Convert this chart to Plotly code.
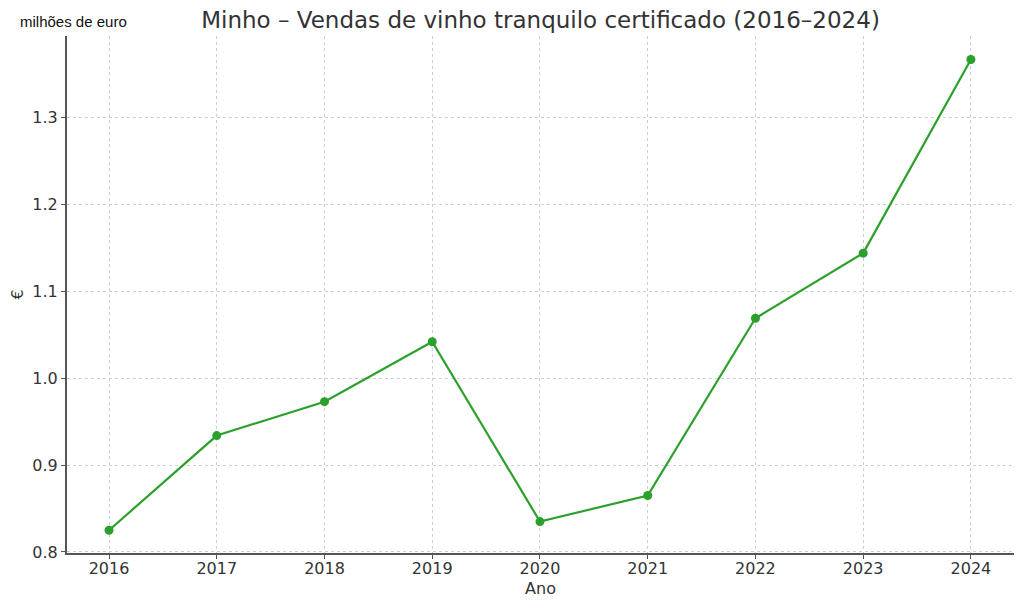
import plotly.graph_objects as go

years = [2016, 2017, 2018, 2019, 2020, 2021, 2022, 2023, 2024]
sales = [0.825, 0.934, 0.973, 1.042, 0.835, 0.865, 1.069, 1.144, 1.367]
y_ticks = [0.8, 0.9, 1.0, 1.1, 1.2, 1.3]
y_tick_labels = ["0.8", "0.9", "1.0", "1.1", "1.2", "1.3"]

fig = go.Figure()
fig.add_trace(go.Scatter(
    x=years, y=sales, mode="lines+markers",
    line=dict(color="#2ca02c", width=2.2),
    marker=dict(color="#2ca02c", size=9),
    showlegend=False,
))

font_main = "DejaVu Sans, sans-serif"
fig.update_layout(
    width=1016, height=602,
    paper_bgcolor="white", plot_bgcolor="white",
    margin=dict(l=59, r=10, t=28, b=57),
    title=dict(text="Minho – Vendas de vinho tranquilo certificado (2016–2024)",
               xref="paper", x=0.5, xanchor="center", y=0.98, yanchor="middle",
               font=dict(family=font_main, size=23, color="#333333")),
    font=dict(family=font_main, color="#333333"),
)
fig.update_xaxes(
    range=[2015.61, 2024.4], tickmode="array", tickvals=years,
    ticktext=[str(y) for y in years],
    showgrid=True, gridcolor="#cfcfcf", griddash="3px,3px", gridwidth=1,
    showline=True, linecolor="#555555", linewidth=2,
    ticks="outside", ticklen=4, tickcolor="#555555",
    tickfont=dict(size=16, color="#333333"),
    ticklabelstandoff=-4,
    title=dict(text="Ano", font=dict(size=16, color="#333333"), standoff=6),
    zeroline=False, automargin=False,
)
fig.update_yaxes(
    range=[0.7988, 1.394], tickmode="array", tickvals=y_ticks, ticktext=y_tick_labels,
    showgrid=True, gridcolor="#cfcfcf", griddash="3px,3px", gridwidth=1,
    showline=True, linecolor="#555555", linewidth=2,
    ticks="outside", ticklen=4, tickcolor="#555555",
    tickfont=dict(size=16, color="#333333"),
    title=dict(text="€", font=dict(size=16, color="#333333"), standoff=8),
    zeroline=False, automargin=False,
)
fig.add_annotation(
    text="milhões de euro", xref="paper", yref="paper",
    x=-0.0515, y=1.0, xanchor="left", yanchor="bottom", yshift=4,
    showarrow=False, font=dict(family="Liberation Sans, Arial, sans-serif", size=15, color="#111111"),
)

fig.write_html("out.html")
